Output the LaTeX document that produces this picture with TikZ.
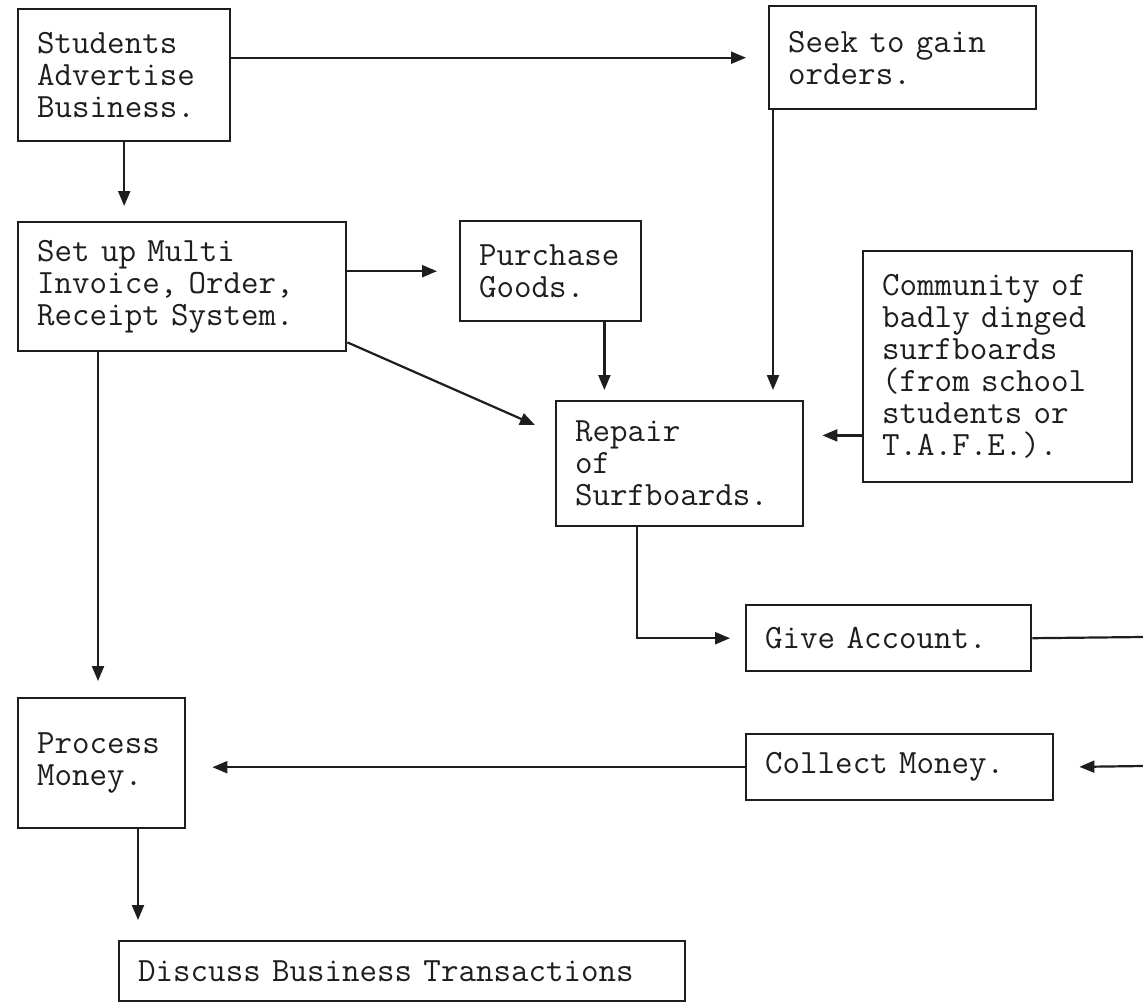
\documentclass[tikz,border=0pt]{standalone}
\usetikzlibrary{arrows.meta,calc}
\definecolor{ink}{HTML}{1E1E1E}
\begin{document}
\begin{tikzpicture}[x=1pt,y=-1pt,
  every node/.style={font=\fontsize{34}{32}\selectfont\ttfamily, text=ink},
  box/.style={draw=ink, line width=2.4pt, anchor=north west, align=left,
    inner xsep=19pt, inner ysep=0pt},
  arr/.style={draw=ink, line width=2.2pt, -{Triangle[length=15pt,width=12pt]}},
  ln/.style={draw=ink, line width=2.2pt}]
\useasboundingbox (0,0) rectangle (1143,1005);
\fill[white] (0,0) rectangle (1143,1005);

% boxes
\node[box, minimum width=212pt, minimum height=132pt, text width=174pt] (adv) at (17,8)
  {Students\\Advertise\\Business.};
\node[box, minimum width=267pt, minimum height=103pt, text width=229pt] (seek) at (768,5)
  {Seek~to~gain\\orders.};
\node[box, minimum width=328pt, minimum height=129pt, text width=290pt] (setup) at (17,221)
  {Set~up~Multi\\Invoice,~Order,\\Receipt~System.};
\node[box, minimum width=181pt, minimum height=100pt, text width=143pt] (purch) at (459,220)
  {Purchase\\Goods.};
\node[box, minimum width=269pt, minimum height=231pt, text width=231pt] (comm) at (862,250)
  {Community~of\\badly~dinged\\surfboards\\(from~school\\students~or\\T.A.F.E.).};
\node[box, minimum width=247pt, minimum height=125pt, text width=209pt] (repair) at (555,400)
  {Repair\\of\\Surfboards.};
\node[box, minimum width=285pt, minimum height=66pt, text width=247pt] (give) at (745,604)
  {Give~Account.};
\node[box, minimum width=167pt, minimum height=130pt, text width=129pt] (proc) at (17,697)
  {Process\\Money.};
\node[box, minimum width=307pt, minimum height=66pt, text width=269pt] (coll) at (745,733)
  {Collect~Money.};
\node[box, minimum width=566pt, minimum height=60pt, text width=528pt] (disc) at (118,940)
  {Discuss~Business~Transactions};

% loop ends leaving the sheet on the right
\coordinate (outA) at (1143,637);
\coordinate (outB) at (1143,766);

% connectors
\draw[arr, shorten >=22pt] (adv.east |- seek.west) -- (seek.west);
\draw[arr, shorten >=15pt] (adv.south) -- (adv.south |- setup.north);
\draw[arr, shorten >=22pt] (setup.east |- purch.west) -- (purch.west);
\draw[arr] ($(setup.south east)+(0,-10)$) -- ($(repair.north west)+(-20,25)$);
\draw[arr, shorten >=10pt] ($(purch.south east)+(-38,0)$) coordinate (p1) -- (p1 |- repair.north);
\draw[arr, shorten >=10pt] ($(seek.south west)+(5,0)$) coordinate (s1) -- (s1 |- repair.north);
\draw[arr, shorten >=18pt] ($(comm.south west)+(0,-48)$) coordinate (c1) -- (c1 -| repair.east);
\draw[arr, shorten >=15pt] ($(repair.south west)+(82,0)$) |- (give.west);
\draw[ln] (give.east) -- (outA);
\draw[arr, shorten >=25pt] (outB) -- (coll.east);
\draw[arr, shorten >=26pt] (coll.west) -- (coll.west -| proc.east);
\draw[arr, shorten >=16pt] ($(setup.south west)+(81,0)$) coordinate (q1) -- (q1 |- proc.north);
\draw[arr, shorten >=20pt] ($(proc.south west)+(121,0)$) coordinate (r1) -- (r1 |- disc.north);
\end{tikzpicture}
\end{document}
